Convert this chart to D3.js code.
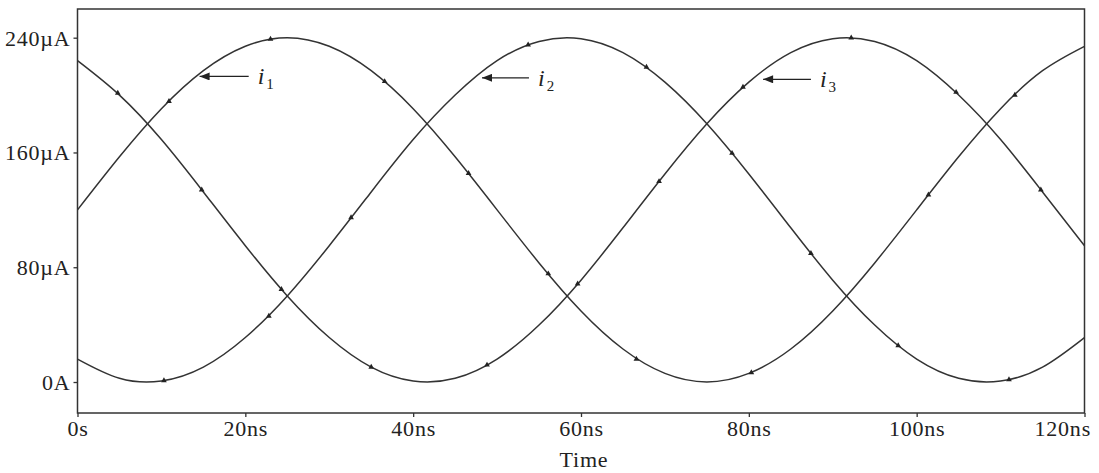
<!DOCTYPE html>
<html>
<head>
<meta charset="utf-8">
<script src="https://cdn.jsdelivr.net/npm/d3@7"></script>
<style>
  html, body { margin: 0; padding: 0; background: #fff; }
  svg { display: block; }
  text { font-family: "Liberation Serif", "Times New Roman", Times, serif; fill: #222; }
</style>
</head>
<body>
<svg id="chart" width="1099" height="473"></svg>
<script>
// Simulation time samples (ns)
const timeNs = [0, 5, 10, 15, 20, 25, 30, 35, 40, 45, 50, 55, 60,
                65, 70, 75, 80, 85, 90, 95, 100, 105, 110, 115, 120];

// Branch currents (µA) at each time sample
const i1Values = [120, 157, 190.5, 217, 234, 240, 234, 217, 190.5, 157, 120, 83, 49.5,
                  23, 6, 0, 6, 23, 49.5, 83, 120, 157, 190.5, 217, 234];
const i2Values = [16, 2.6, 0.7, 10.4, 31, 60, 95, 132.5, 169, 200, 224, 237.4, 239.3,
                  229.6, 209, 180, 145, 107.5, 71, 39.7, 16, 2.6, 0.7, 10.4, 31];
const i3Values = [224, 200, 169, 132.5, 95, 60, 31, 10.4, 0.7, 2.6, 16, 39.7, 71,
                  107.5, 145, 180, 209, 229.6, 239.3, 237.4, 224, 200, 169, 132.5, 95];

// Trace symbols (time ns, current µA)
const i1Markers = [[10.9, 195.6], [23, 239], [36.6, 209.5], [46.6, 145.5], [56.1, 75.5],
                   [66.6, 16], [80.3, 6.6], [101.4, 130.5], [111.7, 200]];
const i2Markers = [[10.3, 1], [22.8, 46], [32.6, 114.6], [53.7, 235], [67.8, 219.5],
                   [78, 159.5], [87.4, 89.7], [97.8, 25.4], [111, 1.7]];
const i3Markers = [[4.8, 201.4], [14.8, 134], [24.3, 64.6], [35, 10.4], [48.8, 11.9],
                   [59.6, 68.5], [69.3, 139.8], [79.3, 205.6], [92.2, 239.9], [104.7, 202], [114.8, 134]];

// Axis ticks
const xTicks = [0, 20, 40, 60, 80, 100, 120];
const xTickLabels = ["0s", "20ns", "40ns", "60ns", "80ns", "100ns", "120ns"];
const yTicks = [0, 80, 160, 240];
const yTickLabels = ["0A", "80µA", "160µA", "240µA"];

// Trace labels with arrow tail/tip (time ns, current µA)
const traceNames = ["1", "2", "3"];
const arrowTips = [[14.55, 213], [48.2, 212], [81.7, 211]];
const arrowTails = [[20.4, 213], [53.8, 212], [87.4, 211]];

const svg = d3.select("#chart");
const plotLeft = 77.5, plotRight = 1084.5, plotTop = 9, plotBottom = 413;
const ink = "#333";
const serif = '"Liberation Serif", "Times New Roman", Times, serif';

const x = d3.scaleLinear().domain([0, 120]).range([plotLeft, plotRight]);
const y = d3.scaleLinear().domain([-21.6, 260]).range([plotBottom, plotTop]);

// Arrowhead definition
svg.append("defs").append("marker")
  .attr("id", "head")
  .attr("viewBox", "0 0 10 8")
  .attr("refX", 10).attr("refY", 4)
  .attr("markerWidth", 11).attr("markerHeight", 8)
  .attr("markerUnits", "userSpaceOnUse")
  .attr("orient", "auto")
  .append("path").attr("d", "M0,0 L10,4 L0,8 Z").attr("fill", "#222");

// Axes
const xAxis = d3.axisBottom(x).tickValues(xTicks)
  .tickFormat((d, i) => xTickLabels[i]).tickSizeInner(4).tickSizeOuter(0).tickPadding(3);
const yAxis = d3.axisLeft(y).tickValues(yTicks)
  .tickFormat((d, i) => yTickLabels[i]).tickSizeInner(4).tickSizeOuter(0).tickPadding(3);

const gx = svg.append("g").attr("transform", `translate(0,${plotBottom})`).call(xAxis);
const gy = svg.append("g").attr("transform", `translate(${plotLeft},0)`).call(yAxis);
[gx, gy].forEach(g => {
  g.select(".domain").remove();
  g.selectAll(".tick line").attr("stroke", ink).attr("stroke-width", 1.3);
  g.selectAll(".tick text")
    .attr("fill", "#222")
    .style("font-family", serif)
    .style("font-size", "22px")
    .style("letter-spacing", "0.8px");
});
gx.selectAll(".tick text").attr("dy", "0.71em");
gy.selectAll(".tick text").attr("dy", "0.34em");
// keep the last time label inside the page
gx.selectAll(".tick text").filter(d => d === 120)
  .attr("text-anchor", "end").attr("x", 6);

// Plot frame
svg.append("rect")
  .attr("x", plotLeft).attr("y", plotTop)
  .attr("width", plotRight - plotLeft).attr("height", plotBottom - plotTop)
  .attr("fill", "none").attr("stroke", ink).attr("stroke-width", 1.5);

// Axis title
svg.append("text")
  .attr("x", x(60) + 3).attr("y", 467)
  .attr("text-anchor", "middle")
  .style("font-size", "22px").style("letter-spacing", "0.8px")
  .text("Time");

// Traces
const line = d3.line()
  .x(d => x(d[0])).y(d => y(d[1]))
  .curve(d3.curveNatural);

const series = [i1Values, i2Values, i3Values];
const markers = [i1Markers, i2Markers, i3Markers];

const plot = svg.append("g");
series.forEach(vals => {
  plot.append("path")
    .datum(timeNs.map((t, i) => [t, vals[i]]))
    .attr("d", line)
    .attr("fill", "none")
    .attr("stroke", ink)
    .attr("stroke-width", 1.5);
});

const tri = d3.symbol(d3.symbolTriangle).size(14);
markers.forEach(pts => {
  plot.selectAll(null).data(pts).enter().append("path")
    .attr("d", tri)
    .attr("transform", d => `translate(${x(d[0])},${y(d[1])})`)
    .attr("fill", "#222");
});

// Trace labels and arrows
traceNames.forEach((name, k) => {
  const tip = arrowTips[k], tail = arrowTails[k];
  svg.append("line")
    .attr("x1", x(tail[0])).attr("y1", y(tail[1]))
    .attr("x2", x(tip[0])).attr("y2", y(tip[1]))
    .attr("stroke", "#222").attr("stroke-width", 1.3)
    .attr("marker-end", "url(#head)");
  const lbl = svg.append("text")
    .attr("x", x(tail[0]) + 9).attr("y", y(tail[1]) + 8)
    .style("font-size", "24px");
  lbl.append("tspan").style("font-style", "italic").text("i");
  lbl.append("tspan").attr("dx", 2).attr("dy", 5).style("font-size", "15px").text(name);
});
</script>
</body>
</html>
